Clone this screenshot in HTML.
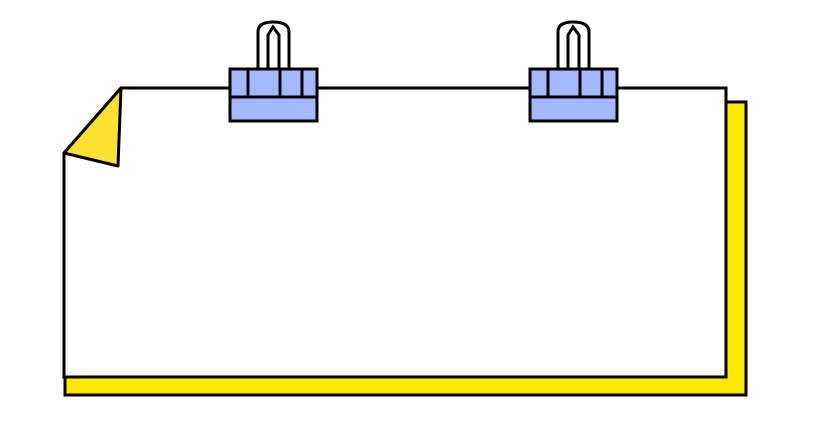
<!DOCTYPE html>
<html><head><style>html,body{margin:0;padding:0;background:#fff}svg{display:block}</style></head>
<body>
<svg width="820" height="433" viewBox="0 0 820 433" xmlns="http://www.w3.org/2000/svg">
<path d="M726,102 L746,102 L746,395 L65,395 L65,377 L726,377 Z" fill="#ffe800" stroke="#000" stroke-width="3"/>
<path d="M121,88 L726,88 L726,377 L64,377 L64,153 Z" fill="#fff" stroke="#000" stroke-width="3"/>
<path d="M121,88 L64,153 L118,166 Z" fill="#ffe033" stroke="#000" stroke-width="3" stroke-linejoin="round"/>
<g id="clip" stroke="#000" stroke-width="3" fill="none">
<path d="M258,69 L258,32 Q258,22 273,22 Q289,22 289,32 L289,69" fill="#fff"/>
<path d="M268,69 L268,35 L273,27 L279,35 L279,69"/>
<rect x="230" y="69" width="87" height="52" fill="#a5b8ff"/>
<line x1="230" y1="97" x2="317" y2="97"/>
<line x1="248" y1="69" x2="248" y2="97"/>
<line x1="280" y1="69" x2="280" y2="97"/>
<line x1="302" y1="69" x2="302" y2="97"/>
</g>
<use href="#clip" transform="translate(300,0)"/>
</svg>
</body></html>
